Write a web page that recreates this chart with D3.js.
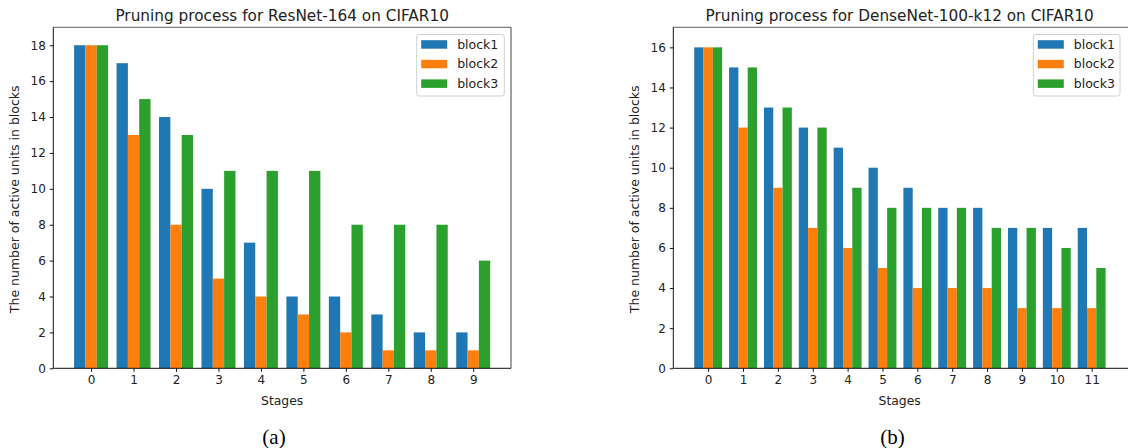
<!DOCTYPE html>
<html><head><meta charset="utf-8">
<script src="https://cdn.jsdelivr.net/npm/d3@7"></script>
<style>
body{margin:0;background:#fff;}
svg{display:block;font-family:"DejaVu Sans",sans-serif;}
</style></head>
<body>
<svg id="c" width="1128" height="448"></svg>
<script>
const seriesNames = ["block1","block2","block3"];
const colors = ["#1f77b4","#ff7f0e","#2ca02c"];

const resStages = [0,1,2,3,4,5,6,7,8,9];
const resBlock1 = [18,17,14,10,7,4,4,3,2,2];
const resBlock2 = [18,13,8,5,4,3,2,1,1,1];
const resBlock3 = [18,15,13,11,11,11,8,8,8,6];
const resYTicks = [0,2,4,6,8,10,12,14,16,18];

const denseStages = [0,1,2,3,4,5,6,7,8,9,10,11];
const denseBlock1 = [16,15,13,12,11,10,9,8,8,7,7,7];
const denseBlock2 = [16,12,9,7,6,5,4,4,4,3,3,3];
const denseBlock3 = [16,15,13,12,9,8,8,8,7,7,6,5];
const denseYTicks = [0,2,4,6,8,10,12,14,16];

const svg = d3.select("#c");
const FS = "12px";

function panel(o){
  const g = svg.append("g");
  const x = d3.scaleLinear().domain(o.xDom).range([o.x0,o.x1]);
  const y = d3.scaleLinear().domain(o.yDom).range([o.y1,o.y0]);
  const bw = 0.8/3;
  const series = [o.b1,o.b2,o.b3];
  series.forEach((vals,si)=>{
    g.append("g").selectAll("rect").data(o.stages).enter().append("rect")
      .attr("x", d=> x(d + (si-1)*bw - bw/2))
      .attr("width", d=> x(bw)-x(0))
      .attr("y", (d,i)=> y(vals[i]))
      .attr("height", (d,i)=> y(0)-y(vals[i]))
      .attr("fill", colors[si]);
  });
  // spines
  g.append("line").attr("x1",o.x0).attr("x2",o.x1).attr("y1",o.y0).attr("y2",o.y0).attr("stroke","#7f7f7f").attr("stroke-width",1.2);
  g.append("line").attr("x1",o.x1).attr("x2",o.x1).attr("y1",o.y0).attr("y2",o.y1).attr("stroke","#444").attr("stroke-width",1);
  // axes
  const ax = g.append("g").attr("transform",`translate(0,${o.y1})`)
    .call(d3.axisBottom(x).tickValues(o.stages).tickFormat(d3.format("d")).tickSize(3.5).tickPadding(4));
  const ay = g.append("g").attr("transform",`translate(${o.x0},0)`)
    .call(d3.axisLeft(y).tickValues(o.yTicks).tickFormat(d3.format("d")).tickSize(3.5).tickPadding(4));
  [ax,ay].forEach(a=>{
    a.select(".domain").attr("stroke","#111").attr("stroke-width",1);
    a.selectAll(".tick line").attr("stroke","#111");
    a.selectAll("text").attr("fill","#222").style("font-size",FS).style("font-family","DejaVu Sans");
  });
  ax.select(".domain").attr("d",`M${o.x0},0H${o.x1}`);
  ay.select(".domain").attr("d",`M0,${o.y0}V${o.y1}`);
  // title
  g.append("text").attr("x",(o.x0+o.tx1)/2).attr("y",20.5).attr("text-anchor","middle")
    .style("font-size","15.3px").attr("fill","#222").text(o.title);
  g.append("text").attr("x",(o.x0+o.tx1)/2).attr("y",405).attr("text-anchor","middle")
    .style("font-size","12.4px").attr("fill","#222").text("Stages");
  g.append("text").attr("transform",`translate(${o.ylx},${(o.y0+o.y1)/2 + 1.5}) rotate(-90)`).attr("text-anchor","middle")
    .attr("dy","0.35em").style("font-size","12.5px").attr("fill","#222").text("The number of active units in blocks");
  g.append("text").attr("x",o.capx).attr("y",444).attr("text-anchor","middle")
    .style("font-family","'Liberation Serif','Times New Roman',serif").style("font-size","21px").attr("fill","#000").text(o.cap);
  // legend
  const lg = g.append("g");
  lg.append("rect").attr("x",o.lx).attr("y",34.5).attr("width",o.lw).attr("height",61.5).attr("rx",2.5)
    .attr("fill","#fff").attr("fill-opacity",0.8).attr("stroke","#d0d0d0").attr("stroke-width",1);
  seriesNames.forEach((n,i)=>{
    const yy = 44.2 + i*19.6;
    lg.append("rect").attr("x",o.lx+4.5).attr("y",yy-4).attr("width",26).attr("height",8.5).attr("fill",colors[i]);
    lg.append("text").attr("x",o.lx+40.5).attr("y",yy).attr("dy","0.35em").style("font-size","12.5px").attr("fill","#222").text(n);
  });
}

panel({x0:53.3,x1:511,tx1:511,y0:27.3,y1:368.3,xDom:[-0.89,9.89],yDom:[0,19],
  stages:resStages,b1:resBlock1,b2:resBlock2,b3:resBlock3,yTicks:resYTicks,
  title:"Pruning process for ResNet-164 on CIFAR10",ylx:15,capx:274,cap:"(a)",lx:416.7,lw:87.6});
panel({x0:673.3,x1:1130,tx1:1126,y0:27.3,y1:368.3,xDom:[-1.0,12.1],yDom:[0,17],
  stages:denseStages,b1:denseBlock1,b2:denseBlock2,b3:denseBlock3,yTicks:denseYTicks,
  title:"Pruning process for DenseNet-100-k12 on CIFAR10",ylx:635,capx:892.5,cap:"(b)",lx:1033.3,lw:86.7});
</script>
</body></html>
